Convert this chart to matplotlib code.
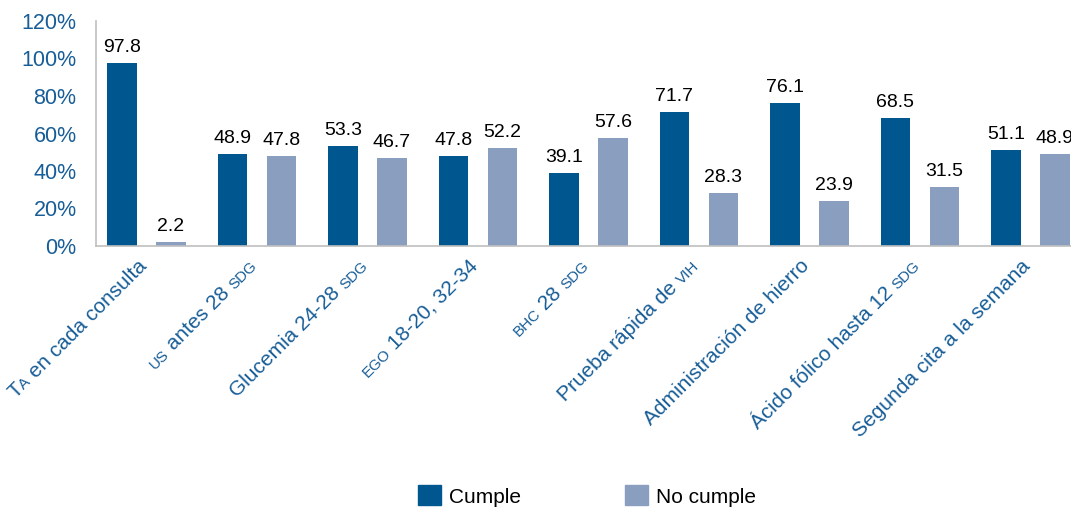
import matplotlib
matplotlib.use("Agg")
import matplotlib.pyplot as plt
import matplotlib.transforms as mtransforms
from matplotlib.patches import Patch
import numpy as np

plt.rcParams['font.family'] = ['Liberation Sans', 'DejaVu Sans']

# ---- data ----
categories = ["TA en cada consulta", "US antes 28 SDG", "Glucemia 24-28 SDG",
              "EGO 18-20, 32-34", "BHC 28 SDG", "Prueba rápida de VIH",
              "Administración de hierro", "Ácido fólico hasta 12 SDG",
              "Segunda cita a la semana"]
# label pieces: (text, is_small)
label_parts = [
    [("T", False), ("A", True), (" en cada consulta", False)],
    [("US", True), (" antes 28 ", False), ("SDG", True)],
    [("Glucemia 24-28 ", False), ("SDG", True)],
    [("EGO", True), (" 18-20, 32-34", False)],
    [("BHC", True), (" 28 ", False), ("SDG", True)],
    [("Prueba rápida de ", False), ("VIH", True)],
    [("Administración de hierro", False)],
    [("Ácido fólico hasta 12 ", False), ("SDG", True)],
    [("Segunda cita a la semana", False)],
]
cumple = [97.8, 48.9, 53.3, 47.8, 39.1, 71.7, 76.1, 68.5, 51.1]
no_cumple = [2.2, 47.8, 46.7, 52.2, 57.6, 28.3, 23.9, 31.5, 48.9]
series_names = ["Cumple", "No cumple"]
yticks = [0, 20, 40, 60, 80, 100, 120]

# ---- style ----
c_cumple = "#00578F"
c_no = "#8A9FBF"
lab_color = "#175D97"
BIG = 15
SMALL = 11

W, H = 1071, 512
fig = plt.figure(figsize=(W / 100, H / 100), dpi=100)
ax = fig.add_axes([96 / W, (H - 246) / H, (W - 96) / W, (246 - 21) / H])

x = np.arange(len(categories))
bw = 0.27
off = 0.222
b1 = ax.bar(x - off, cumple, bw, color=c_cumple, label=series_names[0])
b2 = ax.bar(x + off, no_cumple, bw, color=c_no, label=series_names[1])
for bars, vals in ((b1, cumple), (b2, no_cumple)):
    for r, v in zip(bars, vals):
        ax.annotate(f"{v:.1f}", (r.get_x() + r.get_width() / 2, v),
                    xytext=(0, 5), textcoords="offset points",
                    ha="center", va="bottom", fontsize=14, color="black")

ax.set_xlim(-0.457, 8.367)
ax.set_ylim(0, 120)
ax.set_yticks(yticks)
ax.set_yticklabels([f"{t}%" for t in yticks], fontsize=15.5, color=lab_color)
ax.tick_params(axis="y", length=0, pad=14)
ax.set_xticks([])
for s in ("top", "right"):
    ax.spines[s].set_visible(False)
ax.spines["left"].set_color("#BFBFBF")
ax.spines["bottom"].set_color("#BFBFBF")
ax.spines["left"].set_linewidth(1.2)
ax.spines["bottom"].set_linewidth(1.2)

# ---- rotated mixed-size x labels ----
renderer = fig.canvas.get_renderer()


def text_width(s, size):
    t1 = fig.text(0, 0, s + "|", fontsize=size)
    t2 = fig.text(0, 0, "|", fontsize=size)
    w = t1.get_window_extent(renderer).width - t2.get_window_extent(renderer).width
    t1.remove()
    t2.remove()
    return w


ang = np.deg2rad(45)
ux, uy = np.cos(ang), np.sin(ang)
base = ax.get_xaxis_transform()
dx0, dy0 = 1, 21
for i, parts in enumerate(label_parts):
    cum = 0.0
    for txt, small in reversed(parts):
        size = SMALL if small else BIG
        tr = mtransforms.offset_copy(base, fig=fig, x=dx0 - cum * ux,
                                     y=-dy0 - cum * uy, units="dots")
        ax.text(x[i], 0, txt, transform=tr, rotation=45, rotation_mode="anchor",
                ha="right", va="baseline", fontsize=size, color=lab_color,
                clip_on=False)
        cum += text_width(txt, size)

handles = [Patch(color=c_cumple), Patch(color=c_no)]
fig.legend(handles, series_names, loc="center", bbox_to_anchor=(587 / W, 1 - 496 / H),
           ncol=2, frameon=False, fontsize=15, handlelength=1.1, handleheight=1.1,
           handletextpad=0.4, columnspacing=5.0)

fig.savefig("out.png", dpi=100)
